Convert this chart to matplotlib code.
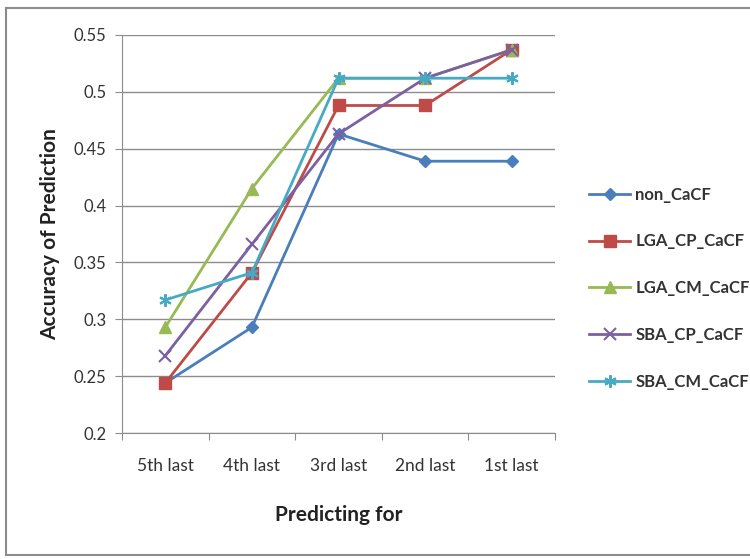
import matplotlib
matplotlib.use("Agg")
import matplotlib.pyplot as plt
from matplotlib.lines import Line2D

plt.rcParams['font.family'] = ['Lato', 'DejaVu Sans']

categories = ["5th last", "4th last", "3rd last", "2nd last", "1st last"]
non_cacf = [0.244, 0.293, 0.463, 0.439, 0.439]
lga_cp_cacf = [0.244, 0.341, 0.488, 0.488, 0.537]
lga_cm_cacf = [0.293, 0.415, 0.512, 0.512, 0.537]
sba_cp_cacf = [0.268, 0.366, 0.463, 0.512, 0.537]
sba_cm_cacf = [0.317, 0.341, 0.512, 0.512, 0.512]

series = [
    ("non_CaCF", non_cacf, "#4A7EBB", "D", 6),
    ("LGA_CP_CaCF", lga_cp_cacf, "#BE4B48", "s", 8),
    ("LGA_CM_CaCF", lga_cm_cacf, "#98B954", "^", 8),
    ("SBA_CP_CaCF", sba_cp_cacf, "#7D60A0", "x", 8),
    ("SBA_CM_CaCF", sba_cm_cacf, "#46AAC5", (6, 2, 0), 9),
]

fig = plt.figure(figsize=(7.5, 5.59), dpi=100)
ax = fig.add_axes([0.1627, 0.2254, 0.5773, 0.712])

# outer chart border (Excel style, right side cut off)
for xs, ys in [([0.008, 0.008], [0.007, 0.986]),
               ([0.008, 1.0], [0.986, 0.986]),
               ([0.008, 1.0], [0.007, 0.007])]:
    fig.lines.append(Line2D(xs, ys, transform=fig.transFigure,
                            color="#8c8c8c", linewidth=1.5))

x = [i + 0.5 for i in range(len(categories))]
for name, vals, col, mk, ms in series:
    ax.plot(x, vals, color=col, marker=mk, markersize=ms, linewidth=2,
            markeredgewidth=1.5 if mk in ("x", (6, 2, 0)) else 1,
            label=name)

ax.set_xlim(0, len(categories))
ax.set_ylim(0.2, 0.55)
ax.set_yticks([0.2, 0.25, 0.3, 0.35, 0.4, 0.45, 0.5, 0.55])
ax.set_yticklabels(["0.2", "0.25", "0.3", "0.35", "0.4", "0.45", "0.5", "0.55"])
ax.set_xticks(range(len(categories) + 1))
ax.set_xticklabels([])
ax.set_xticks(x, minor=True)
ax.set_xticklabels(categories, minor=True)
ax.tick_params(axis="x", which="minor", length=0, pad=18, labelsize=12.5, colors="#333333")
ax.tick_params(axis="x", which="major", length=5, color="#8c8c8c")
ax.tick_params(axis="y", length=5, color="#8c8c8c", labelsize=12, labelcolor="#333333", pad=6)

ax.yaxis.grid(True, color="#8c8c8c", linewidth=1)
ax.set_axisbelow(True)
for s in ["top", "right"]:
    ax.spines[s].set_visible(False)
for s in ["left", "bottom"]:
    ax.spines[s].set_color("#8c8c8c")

ax.set_xlabel("Predicting for", fontsize=15, fontweight="bold", labelpad=22, color="#222222")
ax.set_ylabel("Accuracy of Prediction", fontsize=15, fontweight="bold", labelpad=10, color="#222222")

leg = fig.legend(loc="upper left", bbox_to_anchor=(0.765, 0.693), frameon=False,
                 fontsize=12, handlelength=2.5, labelspacing=1.85, handletextpad=0.3)
for t in leg.get_texts():
    t.set_fontweight("bold")
    t.set_color("#333333")

fig.savefig("out.png", dpi=100)
